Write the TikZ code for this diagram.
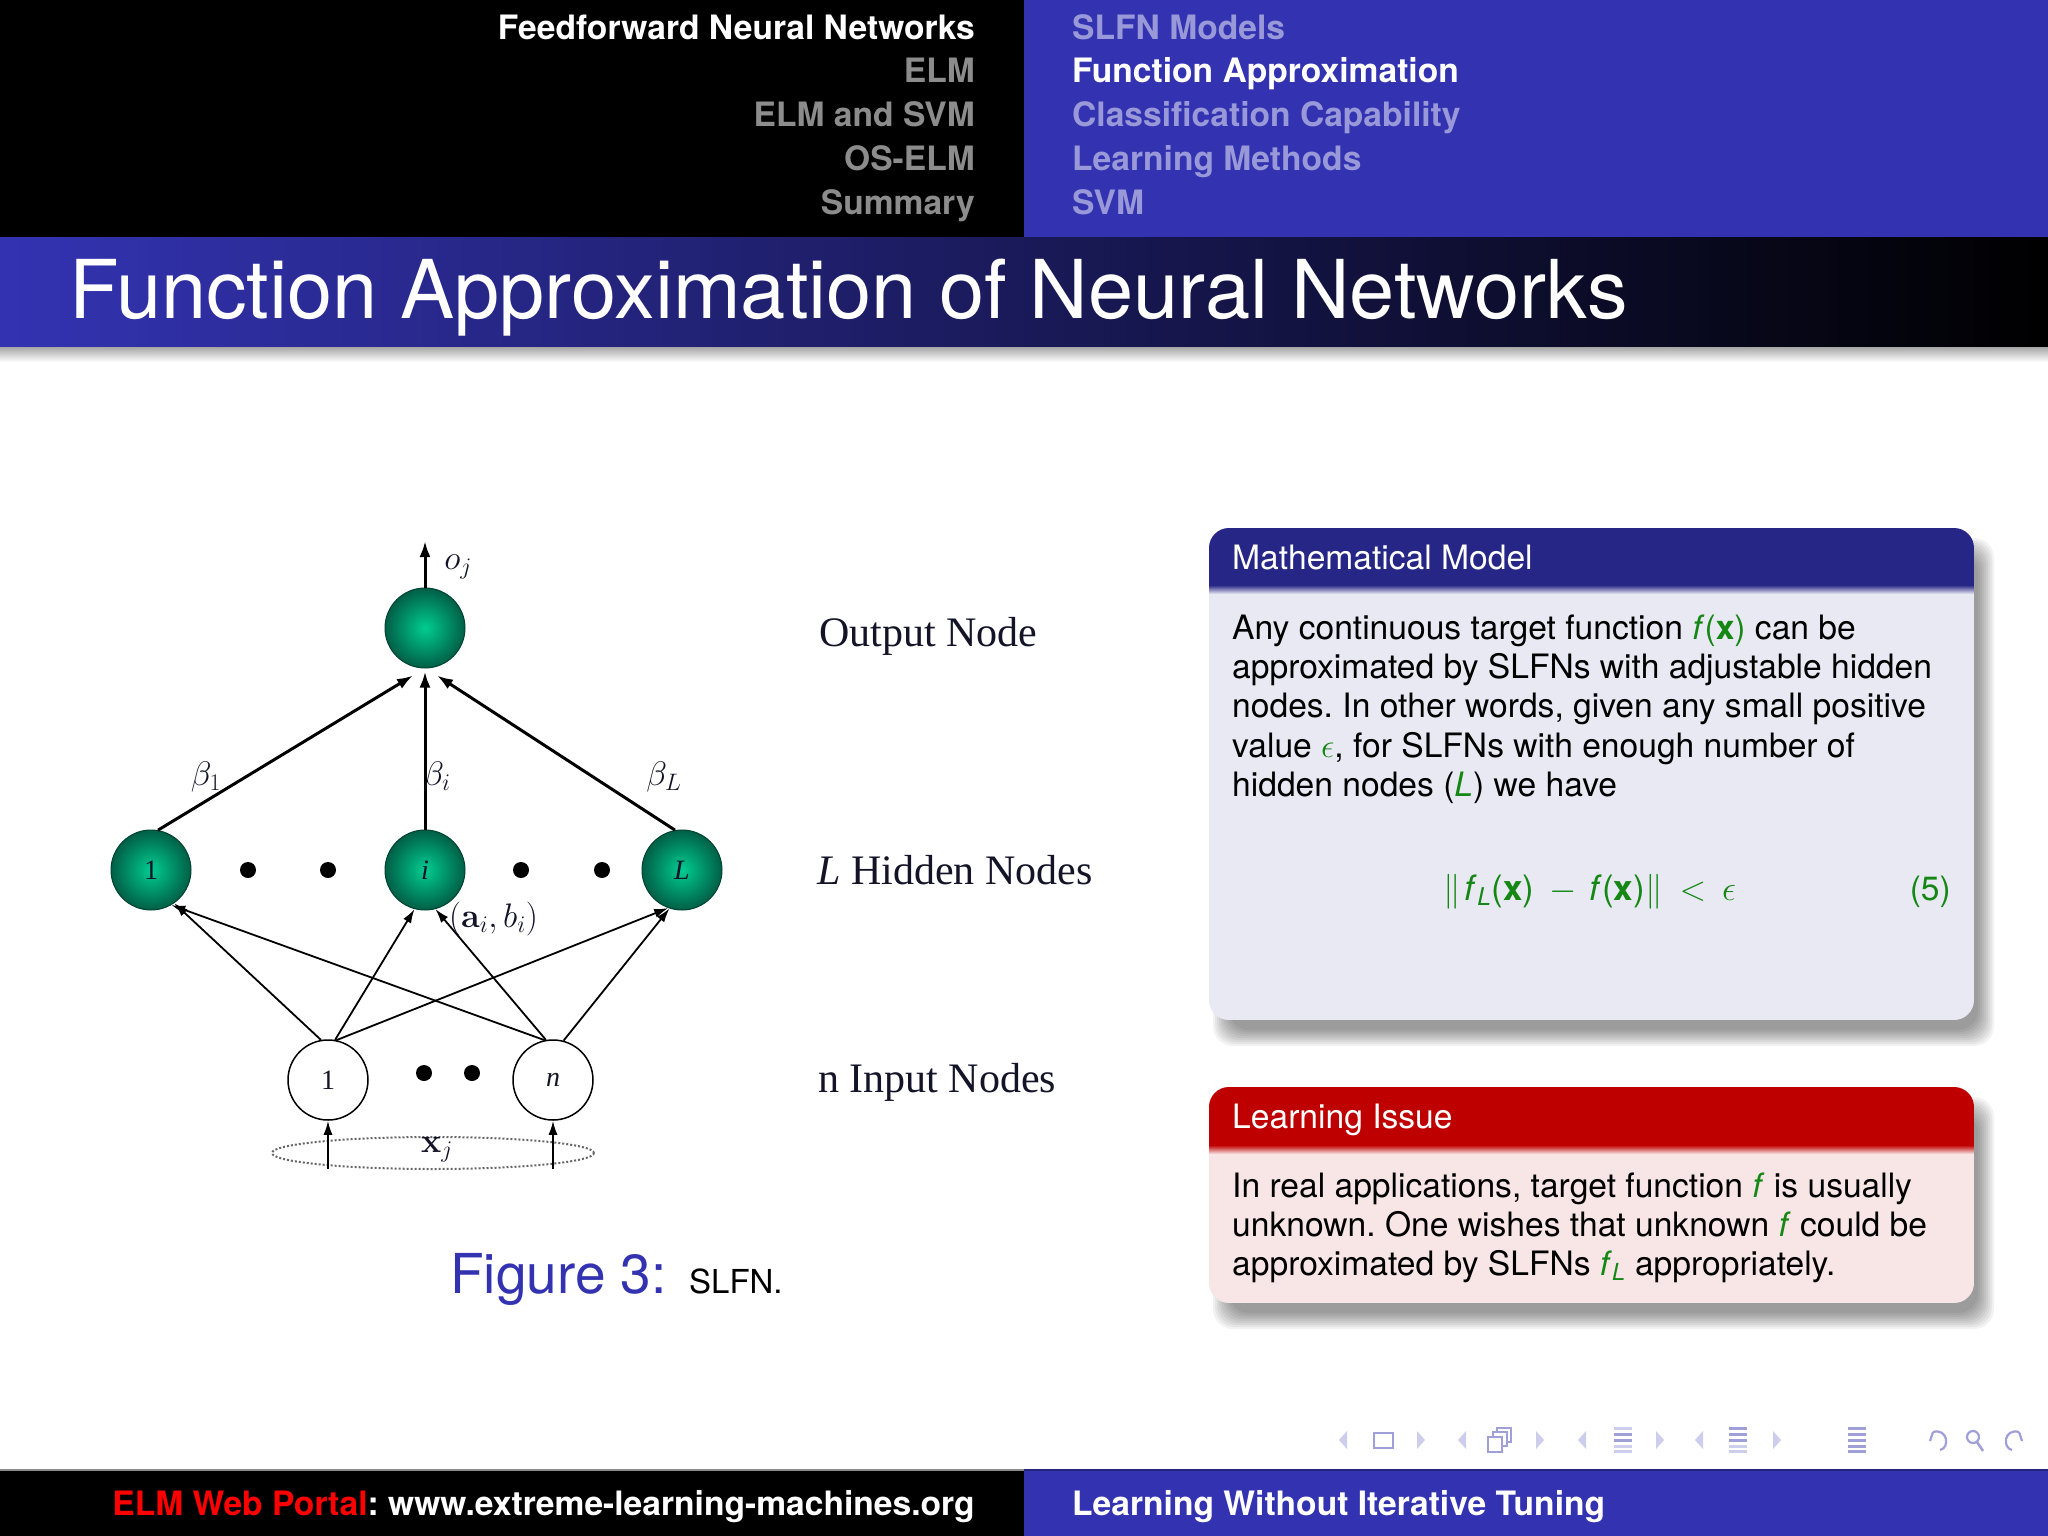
\RequirePackage{fix-cm}
\documentclass[tikz,border=0pt]{standalone}
\usepackage[no-math]{fontspec}
\setmainfont{TeX Gyre Heros}
\newfontfamily\tms{Liberation Serif}
\usetikzlibrary{arrows.meta,shapes.geometric}
\definecolor{sblue}{rgb}{0.2,0.2,0.7}
\definecolor{navgray}{RGB}{140,140,140}
\definecolor{navsub}{RGB}{153,153,217}
\definecolor{hdrblue}{RGB}{38,38,134}
\definecolor{bodyblue}{RGB}{233,233,243}
\definecolor{hdrred}{RGB}{191,0,0}
\definecolor{bodyred}{RGB}{248,230,230}
\definecolor{mgreen}{RGB}{20,135,20}
\definecolor{navlight}{RGB}{205,205,236}
\definecolor{navdark}{RGB}{160,160,216}
\definecolor{tealin}{RGB}{0,205,145}
\definecolor{tealout}{RGB}{0,95,70}
\definecolor{lbl}{RGB}{20,20,40}
\newcommand\myfs[2]{\fontsize{#1}{#2}\selectfont}
\frenchspacing
\tikzset{
  navL/.style={anchor=base east, inner sep=0, font=\myfs{33.6}{40}\bfseries},
  navR/.style={anchor=base west, inner sep=0, font=\myfs{33.6}{40}\bfseries},
  btxt/.style={anchor=base west, inner sep=0, font=\myfs{33.6}{39.2}},
  serlbl/.style={anchor=base west, inner sep=0, text=lbl, font=\tms\myfs{42}{50}},
  hid/.style={circle, minimum size=80pt, inner sep=0, draw=tealout!70!black, line width=1,
    inner color=tealin, outer color=tealout, text=lbl, font=\tms\myfs{28}{32}},
  inp/.style={circle, minimum size=80pt, inner sep=0, draw=black, line width=1.5, fill=white,
    text=lbl, font=\tms\myfs{28}{32}},
  warr/.style={line width=3, -{Latex[length=16pt,width=11pt]}},
  iarr/.style={line width=1.8, -{Latex[length=14pt,width=9pt]}},
  mlbl/.style={inner sep=0, text=lbl, font=\tms\myfs{34}{40}}
}
\begin{document}
\begin{tikzpicture}[x=1pt,y=-1pt]
\useasboundingbox (0,0) rectangle (2048,1536);
\fill[white] (0,0) rectangle (2048,1536);

% ---------- headline ----------
\fill[black] (0,0) rectangle (1024,237);
\fill[sblue] (1024,0) rectangle (2048,237);
\node[navL, text=white]   (s1) at (975,40)  {Feedforward Neural Networks};
\node[navL, text=navgray] (s2) at (975,83)  {ELM};
\node[navL, text=navgray] (s3) at (975,127) {ELM and SVM};
\node[navL, text=navgray] (s4) at (975,171) {OS-ELM};
\node[navL, text=navgray] (s5) at (975,214) {Summary};
\node[navR, text=navsub]  (u1) at (1072,40)  {SLFN Models};
\node[navR, text=white]   (u2) at (1072,83)  {Function Approximation};
\node[navR, text=navsub]  (u3) at (1072,127) {Classification Capability};
\node[navR, text=navsub]  (u4) at (1072,171) {Learning Methods};
\node[navR, text=navsub]  (u5) at (1072,214) {SVM};

% ---------- frame title ----------
\shade[left color=sblue, right color=black] (0,237) rectangle (2048,347);
\shade[top color=black!35, bottom color=white] (0,347) rectangle (2048,362);
\node[anchor=base west, inner sep=0, text=white, font=\myfs{81.2}{96}] (title) at (69,318)
  {Function Approximation of Neural Networks};

% ---------- network ----------
\node[hid] (out) at (425,628) {};
\node[hid] (h1) at (151,870) {1};
\node[hid] (hi) at (425,870) {\itshape i};
\node[hid] (hL) at (682,870) {\itshape L};
\node[inp] (x1) at (328,1080) {1};
\node[inp] (xn) at (553,1080) {\itshape n};
\foreach \x in {248,328,521,602} \fill[black] (\x,870) circle (8pt);
\foreach \x in {424,472} \fill[black] (\x,1073) circle (8pt);

\coordinate (ojt) at (425,541);
\draw[warr] (out.north) -- (ojt);
\node[mlbl] (oj) at (458,567) {$o_j$};

\draw[warr] (h1.80) -- ([xshift=-12pt,yshift=-7pt]out.south);
\draw[warr] (hi.north) -- ([yshift=-3pt]out.south);
\draw[warr] (hL.100) -- ([xshift=12pt,yshift=-7pt]out.south);
\node[mlbl] (b1) at (206,777) {$\beta_1$};
\node[mlbl] (bi) at (437,777) {$\beta_i$};
\node[mlbl] (bL) at (664,777) {$\beta_L$};

\draw[iarr] (x1.100) -- (h1.305);
\draw[iarr] (x1.80) -- (hi.255);
\draw[iarr] (x1.78) -- (hL.250);
\draw[iarr] (xn.102) -- (h1.300);
\draw[iarr] (xn.100) -- (hi.285);
\draw[iarr] (xn.75) -- (hL.252);
\node[mlbl, anchor=west] (ab) at (449,919) {$(\mathbf{a}_i,b_i)$};

\node[ellipse, draw=black!60, dotted, line width=2, minimum width=322pt, minimum height=32pt, inner sep=0] (xe) at (433,1153) {};
\coordinate (e1) at (328,1169);
\coordinate (en) at (553,1169);
\draw[iarr] (e1) -- (x1.south);
\draw[iarr] (en) -- (xn.south);
\node[mlbl] (xj) at (437,1150) {$\mathbf{x}_j$};

\node[serlbl] (lo) at (819,646) {Output Node};
\node[serlbl] (lh) at (817,884) {\itshape L\upshape\ Hidden Nodes};
\node[serlbl] (li) at (818,1092) {n Input Nodes};

\node[anchor=base west, inner sep=0, text=sblue, font=\myfs{55}{66}] (fig) at (450,1293) {Figure 3:};
\node[anchor=base west, inner sep=0, font=\myfs{33}{39}] (cap) at (689,1293) {SLFN.};

% ---------- block 1 ----------
\foreach \k in {-8,-6,...,8}
  \fill[black, opacity=0.05, rounded corners=20] (1221+\k,546+\k) rectangle (1986-\k,1038-\k);
\begin{scope}
  \clip[rounded corners=20] (1209,528) rectangle (1974,1020);
  \fill[bodyblue] (1209,528) rectangle (1974,1020);
  \fill[hdrblue] (1209,528) rectangle (1974,585);
  \shade[top color=hdrblue, bottom color=bodyblue] (1209,585) rectangle (1974,594);
\end{scope}
\node[btxt, text=white] (mmt) at (1232,569) {Mathematical Model};
\node[btxt] (m1) at (1232,639) {Any continuous target function \textcolor{mgreen}{\textit{f}(\textbf{x})} can be};
\node[btxt] (m2) at (1232,678) {approximated by SLFNs with adjustable hidden};
\node[btxt] (m3) at (1232,717) {nodes. In other words, given any small positive};
\node[btxt] (m4) at (1232,757) {value \textcolor{mgreen}{$\epsilon$}, for SLFNs with enough number of};
\node[btxt] (m5) at (1232,796) {hidden nodes (\textcolor{mgreen}{\textit{L}}) we have};
\node[btxt, text=mgreen, font=\myfs{35}{40}] (eq) at (1443,900)
  {$\|$\hspace{4pt}\textit{f}\textsubscript{\textit{L}}(\textbf{x})\hspace{15pt}$-$\hspace{13pt}\textit{f}(\textbf{x})$\|$\hspace{17pt}$<$\hspace{16pt}$\epsilon$};
\node[btxt, anchor=base east, text=mgreen] (eqn) at (1951,900) {(5)};

% ---------- block 2 ----------
\foreach \k in {-8,-6,...,8}
  \fill[black, opacity=0.05, rounded corners=20] (1221+\k,1105+\k) rectangle (1986-\k,1321-\k);
\begin{scope}
  \clip[rounded corners=20] (1209,1087) rectangle (1974,1303);
  \fill[bodyred] (1209,1087) rectangle (1974,1303);
  \fill[hdrred] (1209,1087) rectangle (1974,1145);
  \shade[top color=hdrred, bottom color=bodyred] (1209,1145) rectangle (1974,1154);
\end{scope}
\node[btxt, text=white] (lit) at (1232,1128) {Learning Issue};
\node[btxt] (r1) at (1232,1197) {In real applications, target function \textcolor{mgreen}{\textit{f}} is usually};
\node[btxt] (r2) at (1232,1236) {unknown. One wishes that unknown \textcolor{mgreen}{\textit{f}} could be};
\node[btxt] (r3) at (1232,1275) {approximated by SLFNs \textcolor{mgreen}{\textit{f}\textsubscript{\textit{L}}} appropriately.};

% ---------- navigation symbols ----------
\foreach \x in {1343,1462,1582,1699}
  \fill[navlight] (\x+4,1431) -- (\x-4,1440) -- (\x+4,1449) -- cycle;
\foreach \x in {1421,1540,1660,1777}
  \fill[navlight] (\x-4,1431) -- (\x+4,1440) -- (\x-4,1449) -- cycle;
\draw[navdark, line width=2.5] (1374,1433) rectangle (1393,1448);
\draw[navdark, line width=2.2, fill=white] (1497,1428) rectangle (1511,1442);
\draw[navdark, line width=2.2, fill=white] (1493,1432) rectangle (1507,1446);
\draw[navdark, line width=2.2, fill=white] (1488,1437) rectangle (1502,1452);
\foreach \y/\c in {1428/navlight,1434/navdark,1440/navdark,1446/navlight,1451/navlight}
  \fill[\c] (1614,\y-1.5) rectangle (1632,\y+1.5);
\foreach \y/\c in {1428/navdark,1434/navdark,1440/navdark,1446/navlight,1451/navlight}
  \fill[\c] (1729,\y-1.5) rectangle (1747,\y+1.5);
\foreach \y in {1428,1434,1440,1446,1451}
  \fill[navdark] (1848,\y-1.5) rectangle (1866,\y+1.5);
\draw[navdark, line width=2.2] (1933,1432) .. controls (1948,1428) and (1950,1448) .. (1940,1450);
\draw[navdark, line width=2.2] (1933,1432) -- (1930,1441);
\draw[navdark, line width=2.2] (1973,1437) circle (6pt);
\draw[navdark, line width=2.5] (1977,1442) -- (1983,1451);
\draw[navdark, line width=2.2] (2019,1432) .. controls (2004,1428) and (2002,1448) .. (2012,1450);
\draw[navdark, line width=2.2] (2019,1432) -- (2022,1441);

% ---------- footline ----------
\fill[black] (0,1470) rectangle (1024,1536);
\fill[sblue] (1024,1470) rectangle (2048,1536);
\draw[black!45, line width=2] (0,1470) -- (1024,1470);
\draw[sblue!70!black, line width=2] (1024,1470) -- (2048,1470);
\node[navL, text=white] (f1) at (975,1515) {\textcolor{red}{ELM Web Portal}: www.extreme-learning-machines.org};
\node[navR, text=white] (f2) at (1072,1515) {Learning Without Iterative Tuning};
\end{tikzpicture}
\end{document}
